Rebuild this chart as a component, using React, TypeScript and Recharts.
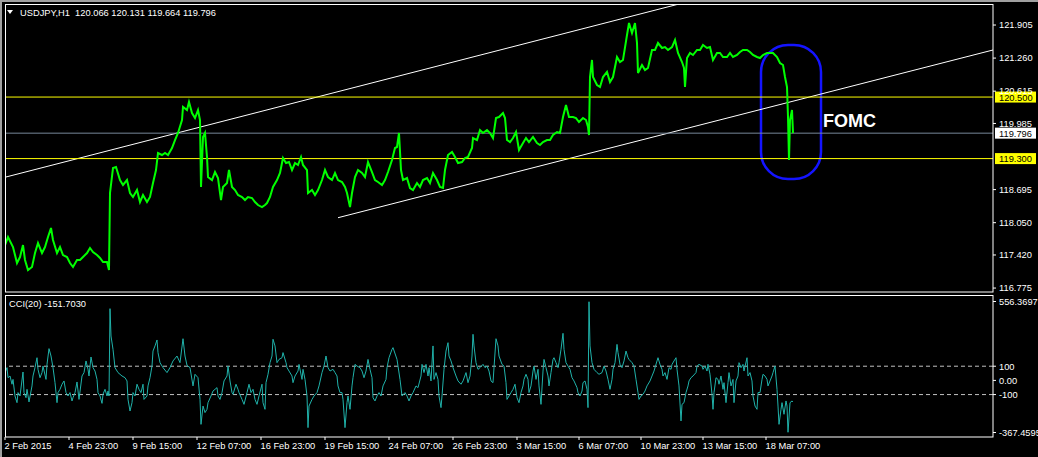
import React from "react";
import {
  ComposedChart,
  Line,
  XAxis,
  YAxis,
  ReferenceLine,
  ReferenceArea,
  ReferenceDot,
} from "recharts";

const FONT = "'Liberation Sans', Arial, sans-serif";
const FS = 9.3;

// bar index -> label on the time axis
const timeTicks = [0, 64, 128, 192, 256, 320, 384, 448, 512, 574, 636, 698, 761];
const timeLabels = [
  "2 Feb 2015", "4 Feb 23:00", "9 Feb 15:00", "12 Feb 07:00", "16 Feb 23:00",
  "19 Feb 15:00", "24 Feb 07:00", "26 Feb 23:00", "3 Mar 15:00", "6 Mar 07:00",
  "10 Mar 23:00", "13 Mar 15:00", "18 Mar 07:00",
];

const priceTicks = [121.905, 121.26, 120.615, 119.985, 118.695, 118.05, 117.42, 116.775];
const cciTicks = [556.3697, 100, 0, -100, -367.4595];
const cciTickLabels = ["556.3697", "100", "0.00", "-100", "-367.4595"];

const resistance = 120.5;
const support = 119.3;
const bid = 119.796;
const lastBar = ["120.066", "120.131", "119.664", "119.796"];
const lastCci = "-151.7030";

// channel lines: [bar, price]
const upperChannel = [[1, 118.941], [674, 122.315]];
const lowerChannel = [[333, 118.147], [988, 121.418]];
const fomcBox = [756, 816, 118.902, 121.515];
const fomcText = [818, 120.052];

// USDJPY H1, [bar, price]
const pricePts = [
  [0, 117.614], [3, 117.77], [8, 117.575], [12, 117.263], [15, 117.38], [18, 117.614], [20, 117.322],
  [23, 117.127], [27, 117.185], [30, 117.458], [33, 117.653], [37, 117.458], [40, 117.575], [43, 117.77],
  [46, 117.946], [48, 117.712], [52, 117.458], [55, 117.575], [58, 117.419], [62, 117.38], [65, 117.263],
  [68, 117.185], [72, 117.322], [75, 117.322], [78, 117.38], [82, 117.458], [85, 117.556], [88, 117.478],
  [92, 117.419], [95, 117.361], [98, 117.283], [102, 117.283], [104, 117.127], [105, 118.629], [108, 119.116],
  [111, 119.136], [115, 118.882], [118, 118.785], [122, 118.882], [125, 118.629], [128, 118.551], [132, 118.687],
  [135, 118.453], [138, 118.59], [142, 118.453], [145, 118.551], [148, 118.824], [151, 119.077], [153, 119.409],
  [157, 119.37], [160, 119.409], [163, 119.37], [167, 119.506], [170, 119.662], [173, 119.799], [177, 120.052],
  [178, 120.306], [182, 120.247], [184, 120.403], [187, 120.189], [190, 120.091], [193, 120.247], [195, 120.052],
  [196, 118.746], [198, 119.721], [200, 119.799], [202, 119.331], [203, 118.941], [207, 118.882], [210, 119.038],
  [213, 118.921], [216, 118.492], [218, 118.746], [222, 118.824], [224, 119.077], [227, 118.746], [230, 118.687],
  [233, 118.59], [237, 118.551], [240, 118.492], [243, 118.551], [247, 118.531], [250, 118.453], [253, 118.394],
  [257, 118.355], [260, 118.394], [262, 118.433], [265, 118.551], [268, 118.746], [272, 118.882], [275, 119.019],
  [278, 119.311], [281, 119.214], [284, 119.233], [287, 119.077], [290, 119.214], [293, 119.175], [296, 119.331],
  [298, 119.175], [302, 119.077], [303, 118.629], [307, 118.687], [310, 118.59], [313, 118.687], [317, 118.882],
  [320, 119.077], [323, 118.941], [327, 118.882], [330, 119.019], [333, 118.882], [337, 118.843], [340, 118.746],
  [342, 118.629], [345, 118.355], [347, 118.629], [350, 118.941], [353, 119.077], [357, 119.019], [360, 118.941],
  [363, 119.233], [367, 119.038], [370, 118.882], [373, 118.843], [377, 118.785], [380, 118.882], [383, 119.038],
  [387, 119.272], [390, 119.506], [392, 119.526], [394, 119.799], [396, 119.077], [398, 118.882], [402, 118.921],
  [405, 118.726], [408, 118.687], [412, 118.824], [415, 118.746], [418, 118.882], [422, 118.921], [425, 118.824],
  [428, 119.019], [432, 118.882], [435, 118.746], [438, 118.726], [440, 119.077], [443, 119.37], [447, 119.428],
  [450, 119.331], [453, 119.214], [457, 119.233], [460, 119.311], [463, 119.331], [467, 119.506], [468, 119.701],
  [472, 119.662], [475, 119.857], [478, 119.799], [482, 119.857], [485, 119.799], [488, 119.701], [491, 120.091],
  [494, 120.111], [498, 120.189], [500, 120.091], [502, 119.662], [505, 119.623], [508, 119.701], [511, 119.818],
  [514, 119.467], [518, 119.604], [521, 119.701], [524, 119.623], [528, 119.721], [532, 119.604], [535, 119.565],
  [538, 119.623], [542, 119.662], [545, 119.662], [548, 119.76], [552, 119.818], [555, 119.799], [558, 120.111],
  [561, 120.345], [564, 120.111], [568, 120.111], [571, 120.091], [574, 120.013], [578, 120.091], [581, 120.052],
  [583, 119.916], [584, 119.76], [585, 120.891], [587, 121.223], [588, 120.891], [592, 120.735], [595, 120.696],
  [598, 120.891], [602, 120.989], [605, 120.794], [608, 120.891], [612, 121.281], [615, 121.184], [618, 121.223],
  [622, 121.71], [624, 121.944], [627, 121.749], [630, 121.944], [632, 121.554], [633, 120.969], [637, 121.125],
  [640, 121.028], [643, 121.067], [647, 121.418], [650, 121.418], [653, 121.554], [657, 121.457], [660, 121.476],
  [663, 121.418], [667, 121.476], [670, 121.613], [673, 121.359], [677, 121.184], [679, 121.067], [680, 120.696],
  [682, 121.262], [685, 121.359], [688, 121.32], [692, 121.418], [695, 121.418], [698, 121.515], [702, 121.457],
  [705, 121.476], [708, 121.223], [712, 121.359], [715, 121.359], [718, 121.281], [722, 121.281], [725, 121.359],
  [728, 121.281], [732, 121.32], [735, 121.379], [738, 121.418], [742, 121.418], [745, 121.379], [748, 121.32],
  [752, 121.281], [755, 121.262], [758, 121.32], [762, 121.359], [765, 121.359], [768, 121.359], [772, 121.281],
  [775, 121.164], [778, 121.125], [780, 120.891], [782, 120.696], [783, 120.111], [784, 119.272], [785, 120.052],
  [787, 120.247], [788, 119.796],
];

// CCI(20), [bar, value]
const cciPts = [
  [0, 55], [2, 90], [3, 19], [5, 31], [7, -27], [8, 7], [10, -110], [12, -157], [13, -86], [15, -110], [18, 59],
  [19, -86], [21, -122], [22, -63], [24, -152], [27, -39], [28, 31], [30, 90], [32, 160], [33, 78], [35, 19],
  [37, 55], [38, 101], [41, 7], [42, 113], [44, 224], [46, 172], [48, 90], [50, -16], [52, -157], [53, -86],
  [55, -63], [57, -27], [59, -4], [61, -86], [63, -110], [65, -86], [67, -145], [68, -122], [70, -86], [72, -11],
  [74, -134], [77, 31], [79, 55], [81, 137], [83, 78], [84, 31], [86, 165], [88, 90], [90, 66], [92, 7],
  [93, -86], [95, -110], [97, -162], [98, -98], [100, -63], [102, -110], [103, -75], [104, -110], [105, 506],
  [106, 313], [108, 219], [110, 90], [113, 55], [117, 31], [120, 19], [122, -4], [123, -134], [125, -216],
  [127, -157], [128, -86], [130, -110], [132, -27], [134, -63], [136, -86], [138, -27], [139, -134], [142, -110],
  [143, -39], [145, 19], [147, 101], [148, 207], [150, 243], [152, 285], [153, 196], [155, 125], [158, 90],
  [162, 55], [165, 90], [168, 137], [172, 172], [175, 125], [178, 294], [180, 172], [182, 106], [185, 90],
  [188, -39], [190, 43], [193, 19], [195, -134], [196, -310], [198, -181], [200, -227], [202, -204], [203, -157],
  [206, -110], [208, -75], [212, -51], [213, -110], [215, -134], [217, -86], [219, -4], [222, 31], [223, 101],
  [225, -4], [227, -86], [228, -98], [231, -27], [233, -63], [234, -86], [237, -134], [239, -169], [242, -86],
  [244, -27], [246, -86], [248, -63], [250, -134], [252, -169], [254, -110], [257, -27], [258, -157], [260, -204],
  [261, -16], [263, 43], [265, 125], [267, 172], [268, 290], [270, 243], [272, 125], [274, 148], [277, 160],
  [278, 196], [281, 125], [282, 90], [284, 66], [287, 31], [288, -16], [290, 31], [293, 66], [294, 113], [297, 7],
  [298, 78], [300, 7], [302, -110], [303, -333], [304, -181], [307, -134], [309, -110], [312, -86], [314, -39],
  [317, 55], [319, 101], [321, 172], [323, 90], [325, 66], [328, 78], [330, 55], [332, 31], [333, -39], [335, -86],
  [337, -86], [338, -134], [340, -333], [342, -157], [343, -110], [345, -204], [347, -39], [348, 19], [350, 113],
  [352, 101], [355, 90], [357, 66], [359, 19], [361, 66], [363, 148], [365, 78], [367, 19], [368, -122],
  [370, -145], [372, -110], [374, -86], [376, -110], [378, -39], [381, 7], [382, 90], [384, 160], [387, 219],
  [388, 231], [392, 148], [393, 101], [395, 7], [397, -110], [400, -86], [402, -110], [404, -145], [406, -110],
  [408, -86], [411, -39], [413, -51], [416, 31], [417, 113], [419, 55], [421, 113], [423, 31], [424, 90],
  [426, -4], [428, 243], [429, 7], [431, 55], [433, 7], [434, -110], [436, -192], [437, -110], [439, 78],
  [441, 207], [443, 266], [444, 172], [446, 137], [448, 90], [451, 31], [453, -4], [456, -27], [458, -4],
  [461, 55], [463, -16], [465, 31], [467, 172], [468, 325], [469, 243], [471, 125], [473, 78], [475, 90],
  [478, 113], [480, 90], [482, 101], [484, 66], [486, -4], [488, -16], [489, 90], [491, 294], [493, 243],
  [494, 172], [497, 113], [499, 101], [501, -16], [502, -134], [504, -110], [506, -86], [508, -63], [510, -27],
  [512, -122], [514, -157], [516, -86], [518, -39], [519, 7], [521, 43], [523, 7], [524, -86], [526, -39],
  [528, 66], [529, 101], [531, 7], [533, 78], [534, -39], [536, -169], [538, 66], [539, 148], [541, 90], [543, 31],
  [544, -39], [546, 55], [548, 148], [549, 160], [551, 125], [553, 90], [554, 125], [556, 219], [558, 332],
  [559, 219], [561, 125], [563, 101], [565, 78], [567, 19], [569, -4], [572, -51], [573, -86], [575, -110],
  [577, -75], [578, -16], [580, -4], [582, -63], [583, -192], [584, 556.3697], [585, 243], [587, 125], [589, 78],
  [592, 55], [594, 43], [597, 55], [599, 101], [601, 66], [603, 7], [605, -63], [607, 7], [608, 78], [610, 125],
  [612, 254], [613, 196], [615, 113], [617, 90], [619, 137], [621, 207], [623, 160], [624, 148], [627, 125],
  [629, 101], [631, 7], [633, -86], [634, -134], [636, -110], [638, -98], [640, -75], [642, -39], [645, -4],
  [647, 31], [649, 66], [652, 137], [653, 160], [655, 113], [657, 78], [658, 31], [660, 55], [662, 7], [664, 90],
  [666, 78], [667, 113], [669, 137], [671, 160], [672, 78], [674, -39], [676, -286], [677, -169], [679, -157],
  [681, -86], [683, -39], [684, -4], [686, 19], [688, 31], [691, 55], [692, 101], [694, 113], [697, 101],
  [698, 78], [700, 101], [702, 66], [703, 113], [705, 43], [707, -98], [708, -204], [709, -86], [711, 19],
  [713, 7], [714, -27], [716, 31], [718, -63], [719, -16], [721, -157], [723, -16], [724, 55], [726, -39],
  [728, 7], [729, -157], [731, -4], [733, 31], [734, 125], [736, 90], [738, 113], [739, 66], [742, 160], [743, 31],
  [745, 55], [747, -4], [748, -110], [750, -181], [752, -204], [753, -86], [755, -86], [757, 7], [758, 43],
  [760, 31], [762, 7], [763, -39], [765, -4], [767, 31], [768, 55], [770, 101], [772, -63], [773, -181],
  [774, -310], [776, -204], [777, -157], [779, -239], [781, -145], [782, -181], [783, -367.4595], [785, -157],
  [787, -145], [788, -151.703],
];

const priceData = pricePts.map(([i, p]) => ({ i, p }));
const cciData = cciPts.map(([i, c]) => ({ i, c }));

const X_DOMAIN = [0, 988];

const AxisBox = ({ viewBox, text, bg }: any) => {
  if (!viewBox) return null;
  const x = viewBox.x + viewBox.width + 2;
  const y = viewBox.y;
  return (
    <g>
      <rect x={x} y={y - 5.5} width={41} height={11} fill={bg} />
      <text x={x + 4} y={y + 3.5} fontSize={FS} fontFamily={FONT} fill="#000">
        {text}
      </text>
    </g>
  );
};

const FomcLabel = ({ viewBox }: any) => {
  if (!viewBox) return null;
  return (
    <text
      x={viewBox.x}
      y={viewBox.y + 6.5}
      fill="#fff"
      fontSize={18}
      fontWeight="bold"
      fontFamily="'Liberation Sans Narrow', 'Liberation Sans', Arial, sans-serif"
    >
      FOMC
    </text>
  );
};

const TimeTick = ({ x, payload, index }: any) => (
  <g>
    <line x1={x} y1={142} x2={x} y2={145} stroke="#fff" />
    <text x={x - 0.5} y={154} fontSize={FS} fontFamily={FONT} fill="#fff">
      {timeLabels[index] ?? ""}
    </text>
  </g>
);

export default function App() {
  return (
    <div
      style={{
        position: "absolute",
        left: 0,
        top: 0,
        width: 1038,
        height: 457,
        background: "#000",
        overflow: "hidden",
      }}
    >
      <div style={{ position: "absolute", left: 0, top: 0 }}>
        <ComposedChart
          width={1038}
          height={295}
          data={priceData}
          margin={{ top: 4, right: 0, bottom: 3, left: 5 }}
        >
          <XAxis dataKey="i" type="number" domain={X_DOMAIN} hide height={0} allowDataOverflow />
          <YAxis
            orientation="right"
            width={45}
            domain={[116.698, 122.315]}
            ticks={priceTicks}
            interval={0}
            allowDataOverflow
            tickFormatter={(v: number) => v.toFixed(3)}
            tick={{ fill: "#fff", fontSize: FS, fontFamily: FONT }}
            tickLine={{ stroke: "#fff" }}
            tickSize={3}
            tickMargin={3}
            axisLine={false}
          />
          <ReferenceLine
            segment={upperChannel.map(([x, y]) => ({ x, y }))}
            stroke="#fff"
            ifOverflow="hidden"
          />
          <ReferenceLine
            segment={lowerChannel.map(([x, y]) => ({ x, y }))}
            stroke="#fff"
            ifOverflow="hidden"
          />
          <ReferenceLine
            y={resistance}
            stroke="#ffff00"
            label={<AxisBox text={resistance.toFixed(3)} bg="#ffff00" />}
          />
          <ReferenceLine
            y={bid}
            stroke="#778899"
            label={<AxisBox text={bid.toFixed(3)} bg="#ffffff" />}
          />
          <ReferenceLine
            y={support}
            stroke="#ffff00"
            label={<AxisBox text={support.toFixed(3)} bg="#ffff00" />}
          />
          <Line
            dataKey="p"
            stroke="#00ff00"
            strokeWidth={2}
            dot={false}
            isAnimationActive={false}
          />
          <ReferenceArea
            x1={fomcBox[0]}
            x2={fomcBox[1]}
            y1={fomcBox[2]}
            y2={fomcBox[3]}
            shape={(props: any) => (
              <rect
                x={props.x}
                y={props.y}
                width={props.width}
                height={props.height}
                rx={27}
                ry={27}
                fill="none"
                stroke="#1414ff"
                strokeWidth={2.5}
              />
            )}
          />
          <ReferenceDot
            x={fomcText[0]}
            y={fomcText[1]}
            r={0}
            fill="none"
            stroke="none"
            label={<FomcLabel />}
          />
        </ComposedChart>
      </div>

      <div style={{ position: "absolute", left: 0, top: 295 }}>
        <ComposedChart
          width={1038}
          height={162}
          data={cciData}
          margin={{ top: 6.5, right: 0, bottom: 0, left: 5 }}
        >
          <XAxis
            dataKey="i"
            type="number"
            domain={X_DOMAIN}
            ticks={timeTicks}
            interval={0}
            allowDataOverflow
            height={24.5}
            axisLine={false}
            tickLine={false}
            tickSize={0}
            tick={<TimeTick />}
          />
          <YAxis
            orientation="right"
            width={45}
            domain={[-367.4595, 556.3697]}
            ticks={cciTicks}
            interval={0}
            allowDataOverflow
            tickFormatter={(v: number, idx: number) => cciTickLabels[idx]}
            tick={{ fill: "#fff", fontSize: FS, fontFamily: FONT }}
            tickLine={{ stroke: "#fff" }}
            tickSize={3}
            tickMargin={3}
            axisLine={false}
          />
          <ReferenceLine y={100} stroke="#c0c0c0" strokeDasharray="4 3" />
          <ReferenceLine y={-100} stroke="#c0c0c0" strokeDasharray="4 3" />
          <Line
            dataKey="c"
            stroke="#20b2aa"
            strokeWidth={1}
            dot={false}
            isAnimationActive={false}
          />
        </ComposedChart>
      </div>

      <svg
        width={1038}
        height={457}
        style={{ position: "absolute", left: 0, top: 0, pointerEvents: "none" }}
      >
        <rect x={0} y={0} width={1038} height={2} fill="#a0a0a0" />
        <rect x={0} y={0} width={2} height={457} fill="#a0a0a0" />
        <rect x={5.5} y={4.5} width={987.5} height={287.5} fill="none" stroke="#fff" />
        <rect x={5.5} y={295.5} width={987.5} height={141.5} fill="none" stroke="#fff" />
        <polygon points="7,10 13,10 10,14" fill="#fff" />
        <text x={20} y={16} fontSize={FS} fontFamily={FONT} fill="#fff" style={{ whiteSpace: "pre" }}>
          {`USDJPY,H1  ${lastBar.join(" ")}`}
        </text>
        <text x={9} y={307} fontSize={FS} fontFamily={FONT} fill="#fff">
          {`CCI(20) ${lastCci}`}
        </text>
      </svg>
    </div>
  );
}
